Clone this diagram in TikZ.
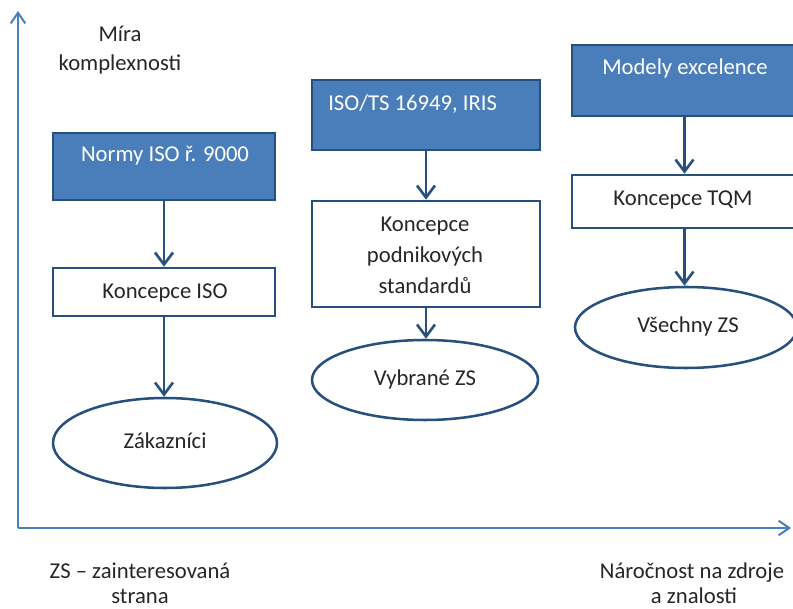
\documentclass[tikz,border=0pt]{standalone}
\usepackage{fontspec}
\setmainfont{Carlito}
\usetikzlibrary{arrows.meta,shapes.geometric}
\definecolor{boxblue}{HTML}{4A7EBB}
\definecolor{edgeblue}{HTML}{27507F}
\definecolor{axisblue}{HTML}{4A7EBB}
\definecolor{ink}{HTML}{262626}
\tikzset{
  font=\fontsize{17}{20}\selectfont,
  shapeline/.style={draw=edgeblue, line width=1.9pt, inner sep=0pt},
  bluebox/.style={shapeline, fill=boxblue, rectangle},
  whitebox/.style={shapeline, fill=white, rectangle},
  oval/.style={shapeline, fill=white, ellipse},
  boxtext/.style={text=white, anchor=base, inner sep=0pt},
  plaintext/.style={text=ink, anchor=base, inner sep=0pt},
  flow/.style={draw=edgeblue, line width=2pt, -{Straight Barb[length=9pt,width=13.5pt,line width=2pt]}},
  axis/.style={draw=axisblue, line width=1.5pt, -{Straight Barb[length=8pt,width=11pt,line width=1.5pt]}}
}
\begin{document}
\begin{tikzpicture}[x=0.75pt, y=-0.75pt]
  \clip (0,0) rectangle (793,609);

  % axes
  \coordinate (origin) at (18,528);
  \coordinate (ytip) at (18,11);
  \coordinate (xtip) at (791,528);
  \draw[axis] (origin) -- (ytip);
  \draw[axis] (origin) -- (xtip);

  \node[plaintext] (ylab1) at (120,42) {Míra};
  \node[plaintext] (ylab2) at (120,71) {komplexnosti};

  \node[plaintext] (note1) at (140,578) {ZS – zainteresovaná};
  \node[plaintext] (note2) at (140,604) {strana};
  \node[plaintext] (xlab1) at (692,578) {Náročnost na zdroje};
  \node[plaintext] (xlab2) at (694,604) {a znalosti};

  % column 1: ISO 9000
  \node[bluebox, minimum width=166.5pt, minimum height=50.25pt] (norms) at (164,166.5) {};
  \node[boxtext] (normsT) at (165,162) {Normy ISO ř. 9000};
  \node[whitebox, minimum width=166.5pt, minimum height=36pt] (isoc) at (164,292) {};
  \node[plaintext] (isocT) at (165,299) {Koncepce ISO};
  \node[oval, minimum width=168pt, minimum height=67.5pt] (cust) at (165,443) {};
  \node[plaintext] (custT) at (165,449) {Zákazníci};

  % column 2: company standards
  \node[bluebox, minimum width=171pt, minimum height=52.5pt] (ists) at (426,115) {};
  \node[boxtext, anchor=base west] (istsT) at (328,111) {ISO/TS 16949, IRIS};
  \node[whitebox, minimum width=171pt, minimum height=79.5pt] (corp) at (426,254) {};
  \node[plaintext] (corpT1) at (425,232) {Koncepce};
  \node[plaintext] (corpT2) at (425,263) {podnikových};
  \node[plaintext] (corpT3) at (425,294) {standardů};
  \node[oval, minimum width=169.5pt, minimum height=60pt] (sel) at (425,380) {};
  \node[plaintext] (selT) at (425,386) {Vybrané ZS};

  % column 3: excellence models
  \node[bluebox, minimum width=168.75pt, minimum height=53.25pt] (excel) at (684.5,80.5) {};
  \node[boxtext] (excelT) at (685,75) {Modely excelence};
  \node[whitebox, minimum width=168.75pt, minimum height=39.75pt] (tqm) at (684.5,201.5) {};
  \node[plaintext] (tqmT) at (683,206) {Koncepce TQM};
  \node[oval, minimum width=166.5pt, minimum height=60.75pt] (all) at (686,327.5) {};
  \node[plaintext] (allT) at (688,333) {Všechny ZS};

  % connectors
  \draw[flow] (norms.south) -- (norms.south |- isoc.north);
  \draw[flow] (isoc.south) -- (isoc.south |- cust.north);
  \draw[flow] (ists.south) -- (ists.south |- corp.north);
  \draw[flow] (corp.south) -- (corp.south |- sel.north);
  \draw[flow] (excel.south) -- (excel.south |- tqm.north);
  \draw[flow] (tqm.south) -- (tqm.south |- all.north);
\end{tikzpicture}
\end{document}
